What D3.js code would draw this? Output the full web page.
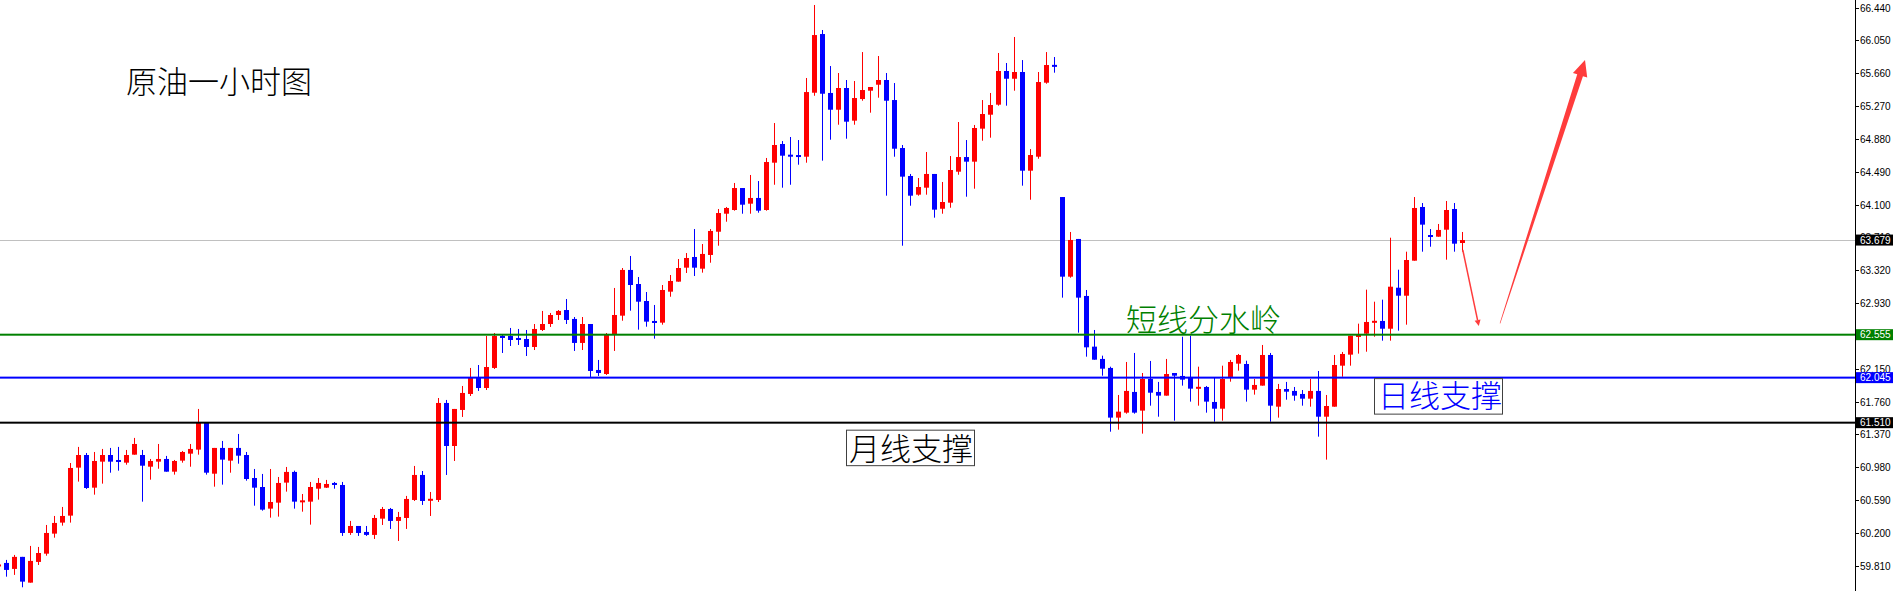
<!DOCTYPE html>
<html><head><meta charset="utf-8">
<script src="https://cdn.jsdelivr.net/npm/d3@7"></script>
<style>body{margin:0;background:#fff;overflow:hidden}svg{display:block}</style>
</head><body>
<svg id="chart" width="1896" height="591"></svg>
<script>
// ---------- DATA (crude oil, 1-hour candles) ----------
const opens = [59.810,59.844,59.773,59.916,59.610,59.856,59.954,60.192,60.323,60.406,
60.976,61.126,60.738,61.047,61.126,61.061,61.035,61.130,61.126,60.987,
61.047,61.079,60.928,61.059,61.142,61.190,61.507,60.904,61.210,61.059,
61.210,61.126,60.853,60.746,60.489,60.560,60.798,60.925,60.571,60.572,
60.726,60.738,60.794,60.770,60.200,60.283,60.212,60.177,60.370,60.485,
60.343,60.378,60.592,60.889,60.584,60.592,61.744,61.233,61.661,61.851,
62.041,61.922,62.160,62.540,62.540,62.510,62.504,62.409,62.611,62.682,
62.789,62.848,62.742,62.457,62.682,62.136,62.088,62.552,62.781,63.324,
63.157,62.955,62.718,62.698,63.066,63.185,63.351,63.478,63.339,63.502,
63.778,63.992,64.036,64.297,64.111,64.179,64.036,64.598,64.820,64.693,
64.683,64.669,65.429,66.126,65.426,65.227,65.485,65.097,65.354,65.453,
65.524,65.580,65.342,64.772,64.440,64.218,64.301,64.464,64.051,64.123,
64.491,64.665,64.610,65.002,65.168,65.287,65.687,65.595,65.675,64.503,
64.669,65.548,65.758,64.190,63.244,63.692,63.015,62.413,62.267,62.160,
61.570,61.629,61.875,61.653,62.029,61.875,61.831,62.100,62.065,62.053,
61.914,61.934,61.756,61.676,62.053,62.211,62.207,61.902,61.950,62.314,
61.700,61.910,61.887,61.851,61.795,61.887,61.581,61.700,62.187,62.318,
62.534,62.567,62.698,62.718,62.626,63.113,63.018,63.434,64.072,63.733,
63.719,63.802,64.048,63.644];
const highs = [59.844,59.880,59.939,59.916,60.046,60.034,60.295,60.402,60.509,61.031,
61.222,61.150,61.162,61.198,61.210,61.222,61.186,61.329,61.186,61.079,
61.257,61.115,61.067,61.174,61.257,61.673,61.507,61.210,61.293,61.210,
61.376,61.162,60.960,60.901,60.960,60.865,60.984,60.940,60.663,60.806,
60.853,60.830,60.806,60.806,60.343,60.283,60.283,60.414,60.509,60.497,
60.450,60.640,60.996,60.936,60.687,61.803,61.780,61.673,61.946,62.160,
62.195,62.540,62.575,62.563,62.635,62.623,62.611,62.682,62.837,62.813,
62.848,62.979,62.765,62.765,62.682,62.255,62.575,63.110,63.347,63.490,
63.240,63.062,62.908,63.145,63.264,63.454,63.525,63.810,63.632,63.810,
64.048,64.072,64.357,64.297,64.452,64.380,64.654,65.069,64.855,64.903,
64.867,65.604,66.471,66.174,65.746,65.663,65.580,65.568,65.912,65.497,
65.865,65.663,65.544,64.808,64.464,64.416,64.725,64.464,64.369,64.677,
65.081,64.867,65.046,65.342,65.426,65.901,65.782,66.091,65.817,64.760,
65.675,65.912,65.853,64.190,63.775,63.692,63.086,62.611,62.306,62.175,
61.839,62.231,62.338,62.100,62.243,61.994,62.267,62.100,62.531,62.543,
62.175,61.946,62.044,62.187,62.255,62.326,62.246,62.029,62.433,62.338,
61.970,61.994,61.934,61.898,62.029,62.124,61.839,62.314,62.350,62.543,
62.686,63.090,62.947,62.971,63.707,63.327,63.541,64.190,64.119,63.810,
63.870,64.143,64.119,63.775];
const lows = [59.781,59.681,59.702,59.555,59.610,59.820,59.930,60.144,60.287,60.323,
60.810,60.723,60.655,60.786,60.916,60.940,61.011,61.130,60.572,60.833,
60.963,60.928,60.893,61.035,60.987,61.130,60.893,60.750,60.774,60.916,
61.023,60.821,60.524,60.465,60.382,60.394,60.691,60.489,60.453,60.299,
60.596,60.734,60.726,60.165,60.177,60.165,60.165,60.129,60.295,60.248,
60.105,60.248,60.580,60.533,60.402,60.568,60.889,61.055,61.578,61.827,
61.887,61.898,62.148,62.338,62.421,62.433,62.302,62.373,62.599,62.647,
62.730,62.682,62.362,62.373,62.053,62.065,62.077,62.362,62.721,62.840,
62.615,62.650,62.508,62.674,63.006,63.185,63.288,63.252,63.292,63.410,
63.612,63.897,64.028,63.992,63.992,64.004,64.028,64.336,64.301,64.336,
64.574,64.598,65.393,64.622,64.871,65.049,64.883,65.049,65.334,65.192,
65.370,64.206,64.669,63.612,64.087,64.206,64.218,63.945,63.992,64.063,
64.455,64.194,64.289,64.859,64.895,65.275,65.275,65.453,64.325,64.158,
64.645,65.536,65.667,62.995,63.232,62.579,62.294,62.258,62.068,61.403,
61.427,61.617,61.617,61.380,61.712,61.581,61.831,61.534,61.950,61.760,
61.712,61.629,61.522,61.534,61.997,62.128,61.760,61.843,61.950,61.522,
61.570,61.783,61.771,61.712,61.700,61.344,61.071,61.700,62.056,62.187,
62.330,62.353,62.531,62.484,62.484,62.603,62.674,63.434,63.541,63.600,
63.719,63.446,63.541,63.541];
const closes = [59.818,59.761,59.916,59.622,59.868,59.962,60.200,60.319,60.402,60.972,
61.126,60.734,61.055,61.126,61.047,61.049,61.126,61.257,60.999,61.055,
61.079,60.928,61.055,61.162,61.198,61.507,60.916,61.210,61.071,61.210,
61.118,60.841,60.738,60.477,60.568,60.794,60.925,60.572,60.580,60.746,
60.794,60.782,60.770,60.200,60.283,60.200,60.177,60.378,60.485,60.343,
60.390,60.604,60.889,60.580,60.604,61.744,61.233,61.673,61.863,62.041,
61.922,62.171,62.540,62.516,62.492,62.498,62.409,62.623,62.682,62.789,
62.837,62.730,62.457,62.682,62.124,62.100,62.552,62.789,63.324,63.145,
62.947,62.710,62.694,63.086,63.193,63.347,63.466,63.351,63.514,63.787,
64.000,64.060,64.297,64.099,64.179,64.028,64.606,64.808,64.681,64.669,
64.671,65.437,66.114,65.417,65.227,65.485,65.085,65.366,65.461,65.497,
65.580,65.334,64.764,64.432,64.206,64.309,64.464,64.040,64.131,64.511,
64.665,64.610,65.010,65.176,65.283,65.687,65.595,65.675,64.503,64.689,
65.556,65.758,65.738,63.244,63.680,62.995,62.405,62.258,62.151,61.570,
61.641,61.887,61.629,62.029,61.866,61.831,62.088,62.068,62.021,61.914,
61.934,61.760,61.676,62.029,62.231,62.314,61.902,61.958,62.314,61.712,
61.910,61.878,61.831,61.795,61.887,61.581,61.708,62.195,62.326,62.543,
62.546,62.706,62.718,62.626,63.125,63.018,63.442,64.060,63.862,63.721,
63.799,64.036,63.636,63.679];

const tickValues = [66.440,66.050,65.660,65.270,64.880,64.490,64.100,63.710,63.320,
62.930,62.540,62.150,61.760,61.370,60.980,60.590,60.200,59.810];
const tickLabels = ["66.440","66.050","65.660","65.270","64.880","64.490","64.100","63.710","63.320",
"62.930","62.540","62.150","61.760","61.370","60.980","60.590","60.200","59.810"];

const levelPrices = [62.555, 62.045, 61.510];
const levelLabels = ["62.555", "62.045", "61.510"];
const lastPrice = 63.679;
const lastLabel = "63.679";

const titleText = "原油一小时图";
const shortTermText = "短线分水岭";
const dailyText = "日线支撑";
const monthlyText = "月线支撑";

// forecast arrows, in (bar index, price)
const smallArrowPts = [[183.1, 63.561], [185.1, 62.658]];
const bigArrowPts = [[187.75, 62.690], [198.375, 65.817]];

// ---------- DRAW ----------
const W = 1896, H = 591, axisX = 1855;
const svg = d3.select("#chart");
svg.append("rect").attr("width", W).attr("height", H).attr("fill", "#fff");

const N = opens.length;
const x = d3.scaleLinear().domain([0, N - 1]).range([-2, 6 + 8 * (N - 2)]);
const y = d3.scaleLinear().domain([66.44, 59.81]).range([7.6, 565.8]);

const levelColors = ["#008000", "#0000ff", "#000000"];
const UP = "#ff0000", DOWN = "#0000ff";

const plot = svg.append("g");

// current price line (grey)
plot.append("line").attr("x1", 0).attr("x2", axisX)
  .attr("y1", Math.round(y(lastPrice)) + 0.5).attr("y2", Math.round(y(lastPrice)) + 0.5)
  .attr("stroke", "#c0c0c0").attr("stroke-width", 1);

// candles
const idx = d3.range(N);
const cg = plot.append("g");
cg.selectAll("rect.wick").data(idx).join("rect").attr("class", "wick")
  .attr("x", i => Math.round(x(i)))
  .attr("width", 1)
  .attr("y", i => y(highs[i]))
  .attr("height", i => Math.max(1, y(lows[i]) - y(highs[i])))
  .attr("fill", i => closes[i] >= opens[i] ? UP : DOWN);
cg.selectAll("rect.body").data(idx).join("rect").attr("class", "body")
  .attr("x", i => Math.round(x(i)) - 2)
  .attr("width", 5)
  .attr("y", i => {
    const t = Math.min(y(opens[i]), y(closes[i]));
    const h = Math.abs(y(opens[i]) - y(closes[i]));
    return h < 2 ? (t + h / 2 - 1) : t;
  })
  .attr("height", i => Math.max(2, Math.abs(y(opens[i]) - y(closes[i]))))
  .attr("fill", i => closes[i] >= opens[i] ? UP : DOWN);

// level lines
levelPrices.forEach((p, k) => {
  plot.append("rect").attr("x", 0).attr("width", axisX)
    .attr("y", y(p) - 1).attr("height", 2).attr("fill", levelColors[k]);
});

// text annotations
const cjk = "'Noto Sans CJK SC','Noto Sans CJK TC',sans-serif";
svg.append("text").attr("x", 126).attr("y", 93)
  .attr("font-family", cjk).attr("font-size", 31).attr("font-weight", 300).attr("fill", "#000")
  .text(titleText);

svg.append("text").attr("x", 1126).attr("y", y(levelPrices[0]) - 4)
  .attr("font-family", cjk).attr("font-size", 31).attr("font-weight", 300).attr("fill", "#008000")
  .text(shortTermText);

// daily support box
const dTop = y(levelPrices[1]) + 1;
svg.append("rect").attr("x", 1374.5).attr("y", dTop).attr("width", 128).attr("height", 35.5)
  .attr("fill", "#fff").attr("stroke", "#404040").attr("stroke-width", 1);
svg.append("text").attr("x", 1378).attr("y", dTop + 28.5)
  .attr("font-family", cjk).attr("font-size", 31).attr("font-weight", 300).attr("fill", "#0000ff")
  .text(dailyText);

// monthly support box
const mTop = y(levelPrices[2]) + 7.5;
svg.append("rect").attr("x", 846.5).attr("y", mTop).attr("width", 128).attr("height", 35.5)
  .attr("fill", "#fff").attr("stroke", "#404040").attr("stroke-width", 1);
svg.append("text").attr("x", 849).attr("y", mTop + 30)
  .attr("font-family", cjk).attr("font-size", 31).attr("font-weight", 300).attr("fill", "#000")
  .text(monthlyText);

// arrows
const ARROW = "#ff3c3c";
function P(d) { return [x(d[0]), y(d[1])]; }
{
  const [a, b] = smallArrowPts.map(P);
  const dx = b[0] - a[0], dy = b[1] - a[1], L = Math.hypot(dx, dy);
  const ux = dx / L, uy = dy / L, nx = -uy, ny = ux;
  const hb = [b[0] - ux * 6, b[1] - uy * 6];
  svg.append("line").attr("x1", a[0]).attr("y1", a[1]).attr("x2", hb[0]).attr("y2", hb[1])
    .attr("stroke", ARROW).attr("stroke-width", 1.5);
  svg.append("path").attr("d", d3.line()([[b[0], b[1]], [hb[0] + nx * 3, hb[1] + ny * 3], [hb[0] - nx * 3, hb[1] - ny * 3]]) + "Z")
    .attr("fill", ARROW);
}
{
  const [t, p] = bigArrowPts.map(P);
  const dx = p[0] - t[0], dy = p[1] - t[1], L = Math.hypot(dx, dy);
  const ux = dx / L, uy = dy / L, nx = -uy, ny = ux;
  const b = [p[0] - ux * 16, p[1] - uy * 16];
  const pts = [
    [t[0] + nx * 0.3, t[1] + ny * 0.3],
    [b[0] + nx * 3, b[1] + ny * 3],
    [b[0] + nx * 7.5, b[1] + ny * 7.5],
    [p[0], p[1]],
    [b[0] - nx * 7.5, b[1] - ny * 7.5],
    [b[0] - nx * 3, b[1] - ny * 3],
    [t[0] - nx * 0.3, t[1] - ny * 0.3]
  ];
  svg.append("path").attr("d", d3.line()(pts) + "Z").attr("fill", ARROW);
}

// price axis
const ax = svg.append("g");
ax.append("rect").attr("x", axisX + 1).attr("y", 0).attr("width", W - axisX).attr("height", H).attr("fill", "#fff");
ax.append("line").attr("x1", axisX + 0.5).attr("x2", axisX + 0.5).attr("y1", 0).attr("y2", H)
  .attr("stroke", "#000").attr("stroke-width", 1);
const axisFont = "'Liberation Sans',Arial,sans-serif";
tickValues.forEach((v, k) => {
  const yy = Math.round(y(v)) + 0.5;
  ax.append("line").attr("x1", axisX + 1).attr("x2", axisX + 4).attr("y1", yy).attr("y2", yy)
    .attr("stroke", "#000");
  ax.append("text").attr("x", axisX + 5).attr("y", yy).attr("dy", "0.35em")
    .attr("font-family", axisFont).attr("font-size", 10).attr("fill", "#000")
    .text(tickLabels[k]);
});
function priceTag(v, label, bg) {
  const yy = y(v);
  ax.append("rect").attr("x", axisX + 1).attr("y", yy - 5.5).attr("width", 37).attr("height", 11).attr("fill", bg);
  ax.append("text").attr("x", axisX + 5).attr("y", yy).attr("dy", "0.35em")
    .attr("font-family", axisFont).attr("font-size", 10).attr("fill", "#fff")
    .text(label);
}
priceTag(lastPrice, lastLabel, "#000000");
levelPrices.forEach((p, k) => priceTag(p, levelLabels[k], levelColors[k]));
</script>
</body></html>
